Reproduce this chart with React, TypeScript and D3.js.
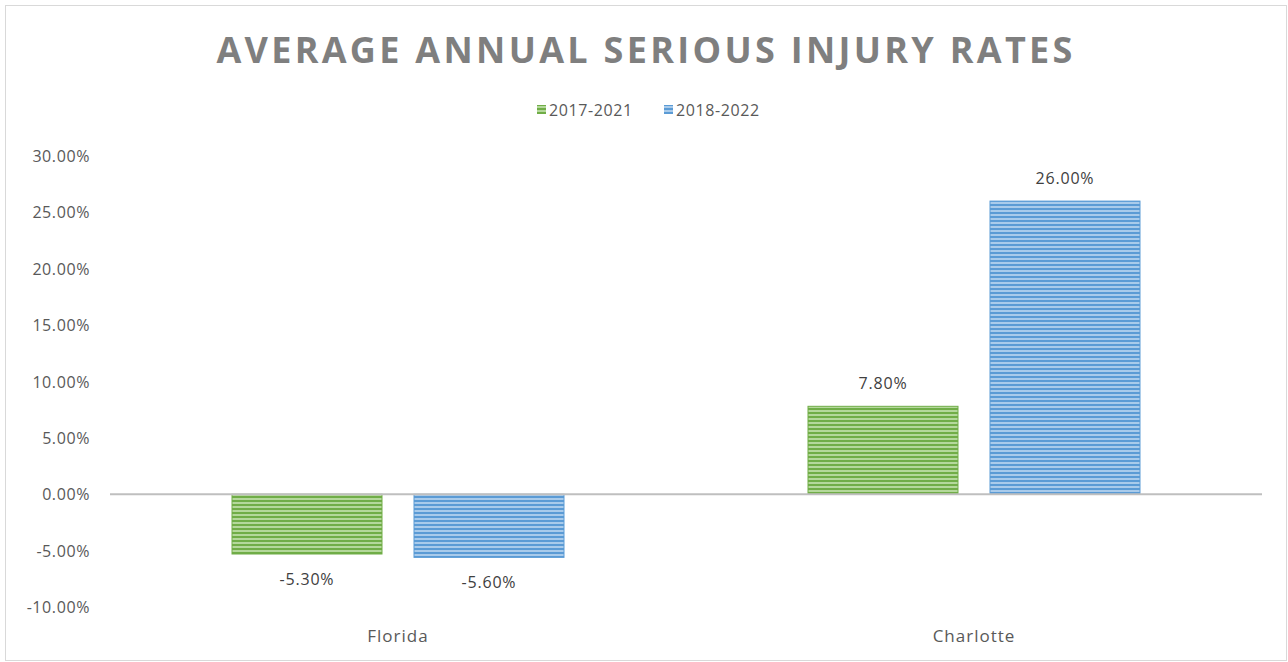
import React from "react";
import * as d3 from "d3";

const categories = ["Florida", "Charlotte"];
const seriesNames = ["2017-2021", "2018-2022"];
const values2017 = [-0.053, 0.078];
const values2018 = [-0.056, 0.26];
const yTicks = [-0.1, -0.05, 0, 0.05, 0.1, 0.15, 0.2, 0.25, 0.3];
const title = "AVERAGE ANNUAL SERIOUS INJURY RATES";

const W = 1288;
const H = 662;
const colors = [
  { dark: "#70AD47", light: "#B4D89B" },
  { dark: "#5B9BD5", light: "#A9CBEB" },
];

export default function App() {
  const x = d3.scaleBand<string>().domain(categories).range([110, 1262]).paddingInner(0).paddingOuter(0);
  const y = d3.scaleLinear().domain([-0.1, 0.3]).range([607, 156]);
  const barW = 150;
  const gap = 32;
  const series = [values2017, values2018];
  const fmt = (v: number) => (v * 100).toFixed(2) + "%";
  const font = "'Open Sans', 'Liberation Sans', sans-serif";

  return (
    <svg width={W} height={H} style={{ position: "absolute", left: 0, top: 0 }} fontFamily={font}>
      <defs>
        {colors.map((c, i) => (
          <pattern key={i} id={"stripe" + i} width={4} height={4} patternUnits="userSpaceOnUse">
            <rect x={0} y={0} width={4} height={4} fill={c.light} />
            <rect x={0} y={0} width={4} height={2} fill={c.dark} />
          </pattern>
        ))}
      </defs>
      <rect x={0} y={0} width={W} height={H} fill="#ffffff" />
      <rect x={5.5} y={5.5} width={1281} height={655} fill="none" stroke="#D9D9D9" strokeWidth={1} />
      <text x={646} y={63} textAnchor="middle" fontSize={36} fontWeight={700} fill="#7F7F7F" letterSpacing={3.3}>
        {title}
      </text>
      {seriesNames.map((s, i) => {
        const lx = i === 0 ? 537 : 664;
        return (
          <g key={s}>
            <rect x={lx} y={105} width={9} height={9} fill={`url(#stripe${i})`} />
            <text x={lx + 12} y={116} fontSize={16} letterSpacing={0.6} fill="#595959">{s}</text>
          </g>
        );
      })}
      {yTicks.map((t) => (
        <text key={t} x={90} y={y(t) + 6} textAnchor="end" fontSize={16} letterSpacing={0.6} fill="#595959">
          {fmt(t)}
        </text>
      ))}
      {categories.map((c, ci) => {
        const cx = (x(c) as number) + x.bandwidth() / 2;
        return (
          <g key={c}>
            {series.map((vals, si) => {
              const v = vals[ci];
              const bx = cx - gap / 2 - barW + si * (barW + gap);
              const y0 = y(0);
              const yv = y(v);
              const top = Math.min(y0, yv);
              const h = Math.abs(yv - y0);
              const ly = v >= 0 ? yv - 17 : yv + 31;
              return (
                <g key={si}>
                  <rect x={bx} y={top} width={barW} height={h} fill={`url(#stripe${si})`} stroke={colors[si].dark} strokeWidth={1} />
                  <text x={bx + barW / 2} y={ly} textAnchor="middle" fontSize={16} letterSpacing={0.8} fill="#404040">
                    {fmt(v)}
                  </text>
                </g>
              );
            })}
            <text x={cx} y={642} textAnchor="middle" fontSize={17} letterSpacing={1} fill="#595959">{c}</text>
          </g>
        );
      })}
      <line x1={110} x2={1262} y1={y(0)} y2={y(0)} stroke="#BFBFBF" strokeWidth={2} />
    </svg>
  );
}
